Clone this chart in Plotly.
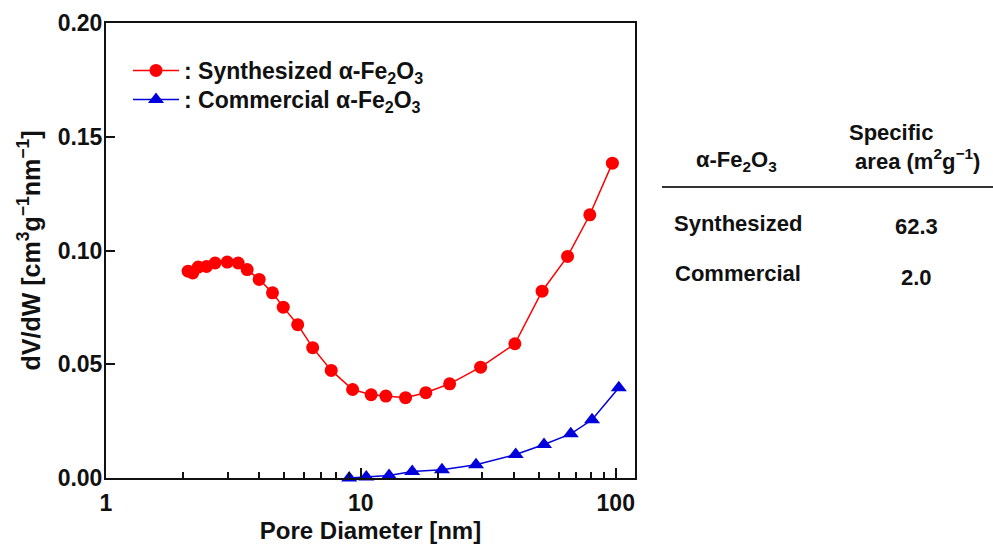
import plotly.graph_objects as go

# ---- data ----
syn_d = [2.10, 2.19, 2.30, 2.48, 2.68, 2.99, 3.30, 3.58, 3.99, 4.50, 4.96, 5.65, 6.47, 7.65,
         9.28, 10.97, 12.53, 14.97, 17.98, 22.3, 29.5, 40.2, 51.4, 64.7, 79.1, 97.0]
syn_v = [0.0909, 0.0901, 0.0927, 0.0930, 0.0945, 0.0949, 0.0945, 0.0916, 0.0873, 0.0814, 0.0751,
         0.0674, 0.0573, 0.0473, 0.0389, 0.0366, 0.0360, 0.0353, 0.0375, 0.0414, 0.0487, 0.0590,
         0.0821, 0.0974, 0.1157, 0.1384]
com_d = [9.0, 10.5, 12.9, 15.9, 20.8, 28.3, 40.5, 52.3, 66.6, 80.7, 102.8]
com_v = [0.0000, 0.0004, 0.0011, 0.0029, 0.0036, 0.0058, 0.0103, 0.0147, 0.0194, 0.0256, 0.0397]

series_names = [": Synthesized α-Fe<sub>2</sub>O<sub>3</sub>", ": Commercial α-Fe<sub>2</sub>O<sub>3</sub>"]
table_header = ["α-Fe<sub>2</sub>O<sub>3</sub>", "Specific<br> area (m<sup>2</sup>g<sup>−1</sup>)"]
table_rows = ["Synthesized", "Commercial"]
table_area = ["62.3", "2.0"]

x_major = [1, 10, 100]
x_minor = [2, 3, 4, 5, 6, 7, 8, 9, 20, 30, 40, 50, 60, 70, 80, 90]
y_ticks = [0.0, 0.05, 0.10, 0.15, 0.20]

FONT = "Liberation Sans, Arial, Helvetica, sans-serif"
INK = "#111111"

W, H = 993, 548
L, R, T, B = 106, 358, 23, 70
pw, ph = W - L - R, H - T - B


def px(xp):
    return (xp - L) / pw


def py(yp):
    return (H - B - yp) / ph


fig = go.Figure()
fig.add_trace(go.Scatter(x=syn_d, y=syn_v, mode="lines+markers", name=series_names[0],
                         line=dict(color="#ff0000", width=1.5),
                         marker=dict(symbol="circle", size=13, color="#ff0000"),
                         cliponaxis=False, legend="legend"))
fig.add_trace(go.Scatter(x=com_d, y=com_v, mode="lines+markers", name=series_names[1],
                         line=dict(color="#0000dd", width=1.5),
                         marker=dict(symbol="triangle-up", size=14, color="#0000dd"),
                         cliponaxis=False, legend="legend2"))

lfont = dict(family=FONT, size=23, color=INK, weight="bold")
leg_common = dict(xanchor="left", yanchor="top", bgcolor="rgba(0,0,0,0)", borderwidth=0,
                  font=lfont, itemwidth=46)

fig.update_layout(
    width=W, height=H,
    margin=dict(l=L, r=R, t=T, b=B, pad=0),
    paper_bgcolor="white", plot_bgcolor="white",
    font=dict(family=FONT, size=22, color=INK),
    showlegend=True,
    legend=dict(x=px(128), y=py(49), **leg_common),
    legend2=dict(x=px(128), y=py(78), **leg_common),
    xaxis=dict(type="log", range=[0, 2.0755], automargin=False,
               tickmode="array", tickvals=x_major, ticktext=[str(v) for v in x_major],
               ticks="inside", ticklen=10, tickwidth=1.5, tickcolor=INK,
               minor=dict(tickmode="array", tickvals=x_minor, ticks="inside",
                          ticklen=6, tickwidth=1.5, tickcolor=INK, showgrid=False),
               showline=True, linecolor=INK, linewidth=2, mirror=True,
               showgrid=False, zeroline=False, ticklabelstandoff=3,
               tickfont=dict(family=FONT, size=23, color=INK, weight="bold"),
               title=dict(text="Pore Diameter [nm]", standoff=8,
                          font=dict(family=FONT, size=24, color=INK, weight="bold"))),
    yaxis=dict(range=[0, 0.2], tickmode="array", tickvals=y_ticks, automargin=False,
               ticktext=[f"{v:.2f}" for v in y_ticks],
               ticks="inside", ticklen=9, tickwidth=1.5, tickcolor=INK,
               showline=True, linecolor=INK, linewidth=2, mirror=True,
               showgrid=False, zeroline=False, ticklabelstandoff=-3,
               tickfont=dict(family=FONT, size=23, color=INK, weight="bold"),
               title=dict(text="dV/dW [cm<sup>3</sup>g<sup>−1</sup>nm<sup>−1</sup>]", standoff=10,
                          font=dict(family=FONT, size=25, color=INK, weight="bold"))),
)

# ---- table on the right ----
tfont = dict(family=FONT, size=22, color=INK, weight="bold")
fig.add_annotation(x=px(736), y=py(161), xref="paper", yref="paper", text=table_header[0],
                   showarrow=False, font=tfont, xanchor="center", yanchor="middle")
fig.add_annotation(x=px(847), y=py(147), xref="paper", yref="paper", text=table_header[1],
                   showarrow=False, font=tfont, xanchor="left", yanchor="middle", align="left")
fig.add_shape(type="line", xref="paper", yref="paper", x0=px(662), x1=px(993),
              y0=py(187), y1=py(187), line=dict(color="#333333", width=2))
for i, (nm, val) in enumerate(zip(table_rows, table_area)):
    yy = 223 + 50 * i
    fig.add_annotation(x=px(738), y=py(yy), xref="paper", yref="paper", text=nm,
                       showarrow=False, font=tfont, xanchor="center", yanchor="middle")
    fig.add_annotation(x=px(916), y=py(yy + 4), xref="paper", yref="paper", text=val,
                       showarrow=False, font=tfont, xanchor="center", yanchor="middle")

fig.write_html("out.html")
